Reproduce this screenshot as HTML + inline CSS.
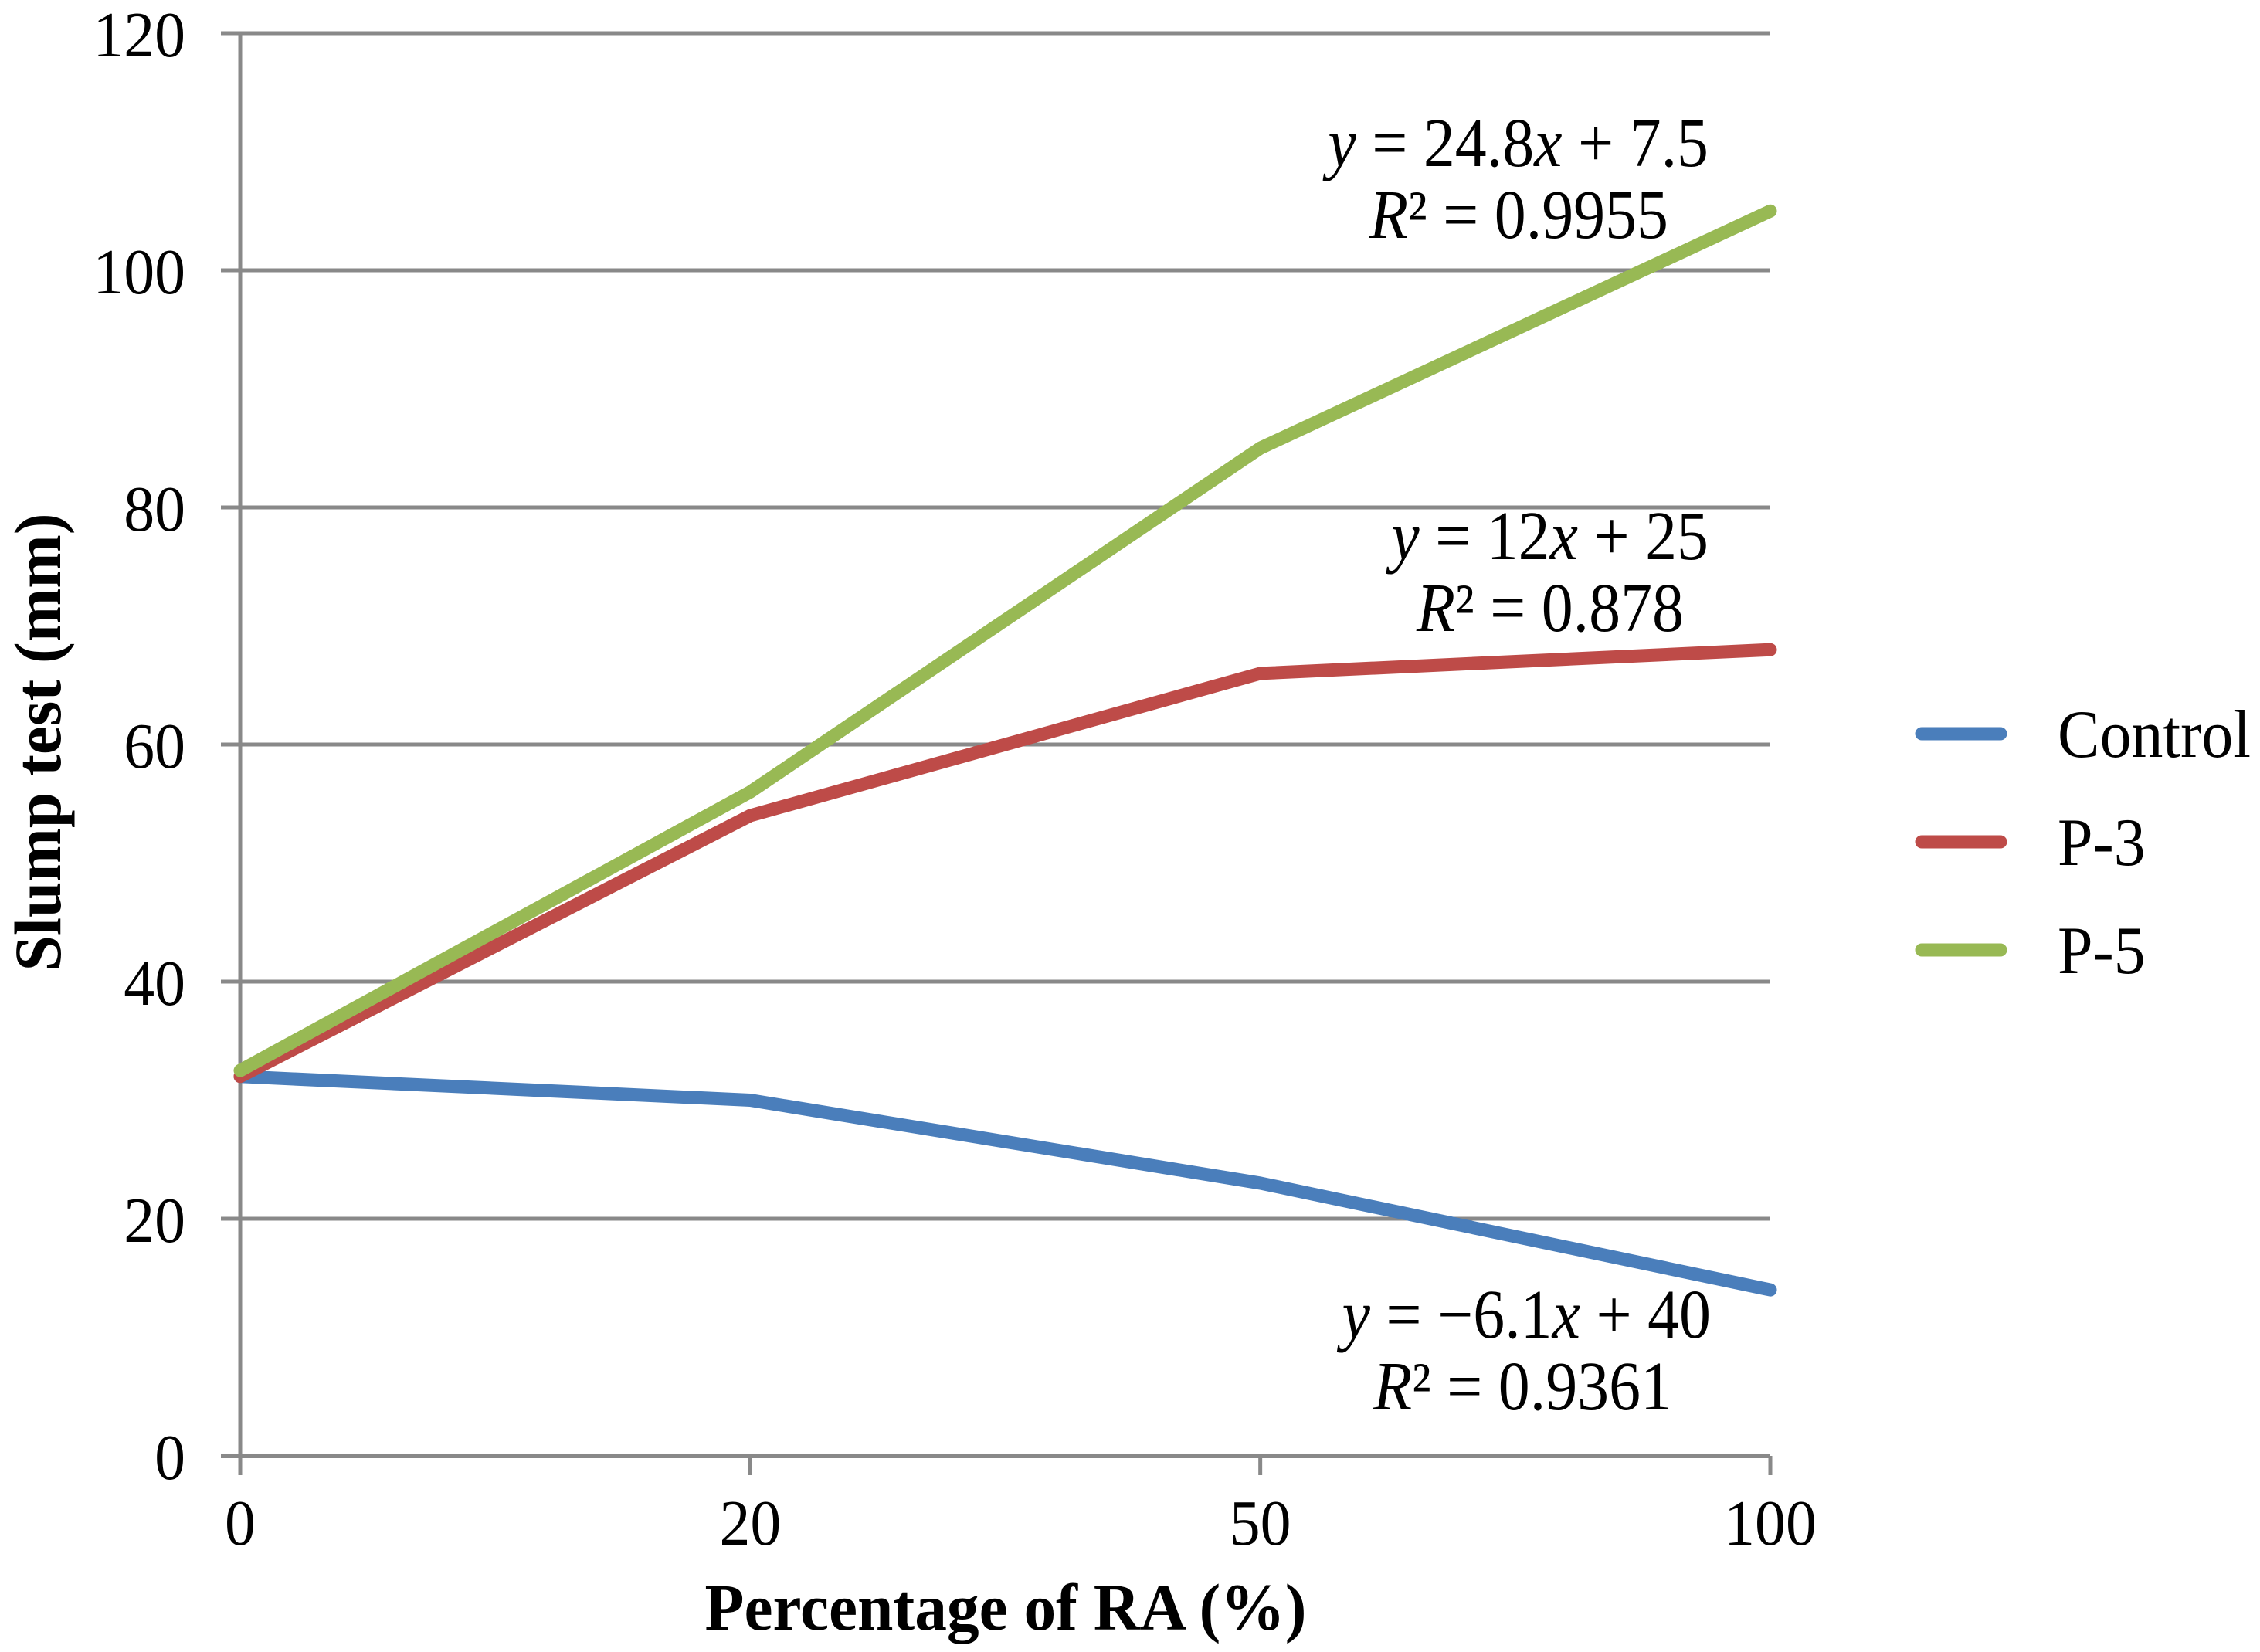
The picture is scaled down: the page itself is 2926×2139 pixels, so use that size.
<!DOCTYPE html>
<html><head><meta charset="utf-8"><style>
html,body{margin:0;padding:0;background:#fff;}
svg{display:block;font-family:"Liberation Serif",serif;}
</style></head><body>
<svg id="chart" width="2926" height="2139">
<g id="grid"></g><g id="axes"></g><g id="series"></g>
<g font-size="90" text-anchor="end">
<text class="sx" data-s="0.91" x="2212" y="215"><tspan font-style="italic">y</tspan> = 24.8<tspan font-style="italic">x</tspan> + 7.5</text>
<text class="sx" data-s="0.91" x="2160" y="308"><tspan font-style="italic">R</tspan>² = 0.9955</text>
<text class="sx" data-s="0.91" x="2212" y="724"><tspan font-style="italic">y</tspan> = 12<tspan font-style="italic">x</tspan> + 25</text>
<text class="sx" data-s="0.91" x="2180" y="817"><tspan font-style="italic">R</tspan>² = 0.878</text>
<text class="sx" data-s="0.91" x="2215" y="1732"><tspan font-style="italic">y</tspan> = −6.1<tspan font-style="italic">x</tspan> + 40</text>
<text class="sx" data-s="0.91" x="2165" y="1825"><tspan font-style="italic">R</tspan>² = 0.9361</text>
</g>
<text class="sx" data-s="0.97" x="1302" y="2110" font-size="86" font-weight="bold" text-anchor="middle">Percentage of RA (%)</text>
<text transform="translate(78,961) rotate(-90) scale(0.97,1)" font-size="86" font-weight="bold" text-anchor="middle">Slump test (mm)</text>
<g id="legend"></g>
</svg>
<script>
const categories = ["0","20","50","100"];
const yTicks = [0,20,40,60,80,100,120];
const seriesNames = ["Control","P-3","P-5"];
const controlValues = [32,30,23,14];
const p3Values = [32,54,66,68];
const p5Values = [32.5,56,85,105];
const colors = ["#4a7ebb","#be4b48","#98b954"];
const NS="http://www.w3.org/2000/svg";
const L=311,R=2292,T=43,B=1885,YMAX=120;
const xs=i=>L+(R-L)*i/(categories.length-1);
const ys=v=>B-(B-T)*v/YMAX;
function mk(tag,attrs,parent){const e=document.createElementNS(NS,tag);for(const k in attrs)e.setAttribute(k,attrs[k]);document.getElementById(parent).appendChild(e);return e;}
yTicks.forEach(t=>{
  if(t>0){const g=mk('line',{x1:L,x2:R,y1:ys(t),y2:ys(t),stroke:'#898989','stroke-width':5},'grid');
  
  }
  const tk=mk('line',{x1:L-25,x2:L,y1:ys(t),y2:ys(t),stroke:'#898989','stroke-width':5},'axes');
  
  
  const lb=mk('text',{x:240,y:ys(t)+30,'font-size':84,'text-anchor':'end','class':'sx','data-s':0.95},'axes');
  lb.textContent=t;
  
  
});
const ya=mk('line',{x1:L,x2:L,y1:T,y2:B+25,stroke:'#898989','stroke-width':5},'axes');


const xa=mk('line',{x1:L-25,x2:R,y1:B,y2:B,stroke:'#898989','stroke-width':6},'axes');


categories.forEach((c,i)=>{
  const tk=mk('line',{x1:xs(i),x2:xs(i),y1:B,y2:B+25,stroke:'#898989','stroke-width':5},'axes');
  
  
  const lb=mk('text',{x:xs(i),y:2000,'font-size':84,'text-anchor':'middle','class':'sx','data-s':0.95},'axes');
  lb.textContent=c;
  
  
});
[controlValues,p3Values,p5Values].forEach((vals,s)=>{
  const p=mk('polyline',{points:vals.map((v,i)=>xs(i)+','+ys(v)).join(' '),fill:'none',stroke:colors[s],'stroke-width':17,'stroke-linejoin':'round','stroke-linecap':'round'},'series');
  
  
  const ly=950+s*140;
  const ll=mk('line',{x1:2488,x2:2590,y1:ly,y2:ly,stroke:colors[s],'stroke-width':17,'stroke-linecap':'round'},'legend');
  
  
  const lt=mk('text',{x:2664,y:ly+30,'font-size':88,'class':'sx','data-s':0.93},'legend');
  lt.textContent=seriesNames[s];
  
  
});
document.querySelectorAll('text.sx').forEach(t=>{
  const x=parseFloat(t.getAttribute('x'));
  const s=t.getAttribute('data-s')||0.9;
  t.setAttribute('transform','translate('+x+',0) scale('+s+',1) translate('+(-x)+',0)');
});
</script>
</body></html>
